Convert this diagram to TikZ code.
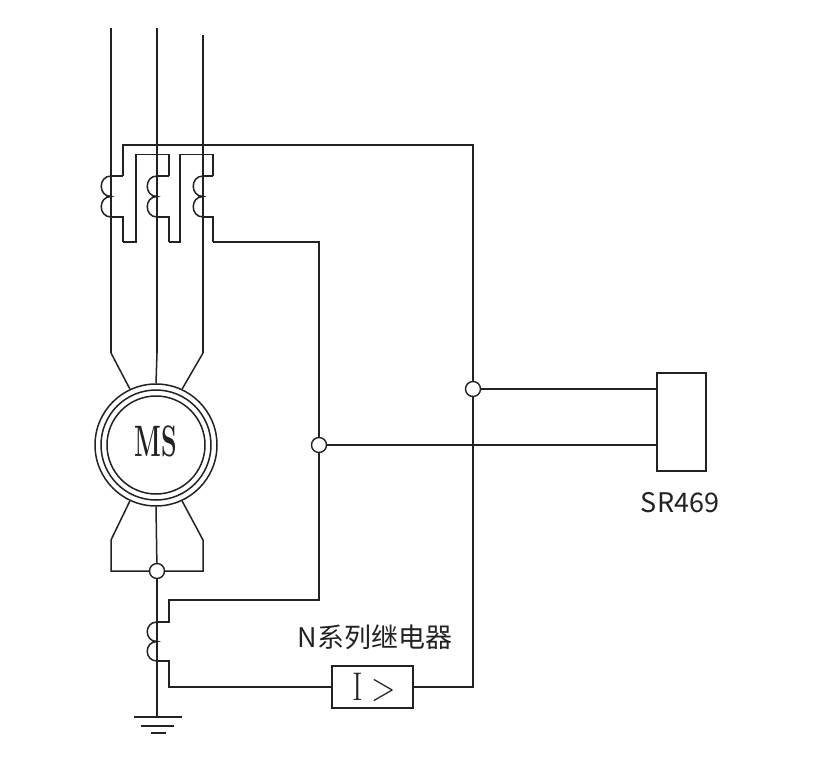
\documentclass[tikz,border=0pt]{standalone}
\usepackage{fontspec}
\usepackage{tikz}
\usetikzlibrary{calc}
\newfontfamily\labelfont{Noto Sans CJK SC}
\definecolor{WireGray}{HTML}{222222}
\tikzset{
    wire/.style={line width=1.7pt,color=WireGray,line join=miter},
    thinwire/.style={line width=1.5pt,color=WireGray},
    junction/.style={circle,draw=WireGray,line width=1.4pt,fill=white,inner sep=0pt,minimum size=15pt},
    winding/.style={circle,draw=WireGray,line width=1.5pt,inner sep=0pt},
    relaybox/.style={rectangle,draw=WireGray,line width=1.6pt,inner sep=0pt},
    plainlabel/.style={inner sep=0pt,text=WireGray},
}
\begin{document}
\begin{tikzpicture}[x=1pt,y=-1pt]
    \useasboundingbox (0,0) rectangle (819,757);
    % motor
    \node[winding,minimum size=122pt] (Motor) at (156,445) {};
    \node[winding,minimum size=110pt] (MotorMid) at (Motor) {};
    \node[winding,minimum size=98pt] (MotorIn) at (Motor) {};
    \node[plainlabel,xscale=0.57,font=\bfseries\fontsize{44}{46}\selectfont] (MotorText) at (156,441) {MS};
    % boxes
    \node[relaybox,minimum width=49pt,minimum height=98pt] (SR) at (681.5,422) {};
    \node[relaybox,minimum width=81pt,minimum height=42pt] (Relay) at (372.5,687) {};
    \node[plainlabel,font=\fontsize{40}{42}\selectfont,xscale=0.8] (RelayText) at (374,687) {I\;>};
    \node[plainlabel,font=\labelfont\fontsize{27}{30}\selectfont] (SRText) at (680,503) {SR469};
    \node[plainlabel,font=\labelfont\fontsize{27}{30}\selectfont] (RelayLabel) at (375,637) {N系列继电器};
    % points
    \foreach \name/\x/\y in {TapJ/319/445,SumJ/473/389,StarJ/157/571} {
     \node[junction] (\name) at (\x,\y) {};
    }
    % phases and their current transformers
    \foreach \name/\x/\ytop/\xtap in {A/111/28/123,B/157/28/169,C/203/35/213} {
     \coordinate (\name top) at (\x,\ytop);
     \coordinate (\name 1) at (\x,176);
     \coordinate (\name 2) at (\x,196.5);
     \coordinate (\name 3) at (\x,217);
     \coordinate (\name bend) at (\x,353);
     \coordinate (\name low) at (\x,540);
     \coordinate (\name up) at (\xtap,176);
     \coordinate (\name down) at (\xtap,217);
     \coordinate (\name foot) at (\xtap,242);
     \draw[wire] (\name top) -- (\name bend);
     \draw[thinwire] (\name 1) .. controls +(-13,0) and +(-13,0) .. (\name 2)
        .. controls +(-13,0) and +(-13,0) .. (\name 3);
     \draw[wire] (\name 1) -- (\name up);
     \draw[wire] (\name 3) -- (\name down) -- (\name foot);
    }
    % secondary loops
    \coordinate (SumTop) at (473,145);
    \coordinate (AHead) at (136,154.5);
    \coordinate (BHead) at (180,154.5);
    \draw[wire] (Aup) |- (SumTop) -- (SumJ);
    \draw[wire] (Afoot) -| (AHead) -| (Bup);
    \draw[wire] (Bfoot) -| (BHead) -| (Cup);
    \draw[wire] (Cfoot) -| (TapJ);
    \coordinate (NTapUp) at (169,600);
    \coordinate (NTapDown) at (169,661);
    \coordinate (N1) at (157,622);
    \coordinate (N2) at (157,641.5);
    \coordinate (N3) at (157,661);
    \draw[thinwire] (N1) .. controls +(-13,0) and +(-13,0) .. (N2)
        .. controls +(-13,0) and +(-13,0) .. (N3);
    \draw[wire] (N1) -| (NTapUp) -| (TapJ);
    \draw[wire] (N3) -- (NTapDown) |- (Relay);
    \draw[wire] (Relay) -| (SumJ);
    \draw[wire] (SumJ) -- (SumJ -| SR.west);
    \draw[wire] (TapJ) -- (TapJ -| SR.west);
    % motor leads
    \draw[thinwire] (Abend) -- (Motor.115);
    \draw[thinwire] (Bbend) -- (Motor.90);
    \draw[thinwire] (Cbend) -- (Motor.65);
    \draw[thinwire] (Motor.245) -- (Alow) |- (StarJ);
    \draw[thinwire] (Motor.295) -- (Clow) |- (StarJ);
    \draw[thinwire] (Motor.270) -- (StarJ);
    % earth
    \coordinate (Earth) at (157,717);
    \draw[thinwire] (StarJ) -- (Earth);
    \draw[thinwire] ($(Earth)+(-23,0)$) -- ($(Earth)+(25,0)$);
    \draw[thinwire] ($(Earth)+(-16,9)$) -- ($(Earth)+(17,9)$);
    \draw[thinwire] ($(Earth)+(-6,16)$) -- ($(Earth)+(9,16)$);
\end{tikzpicture}
\end{document}
